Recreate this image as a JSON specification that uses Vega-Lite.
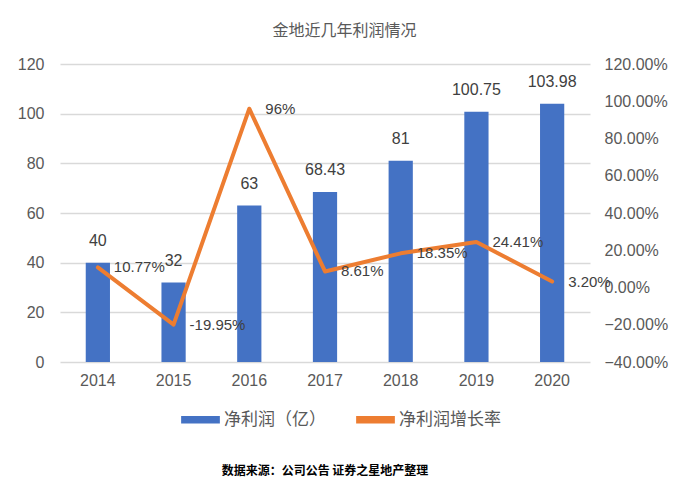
{
  "$schema": "https://vega.github.io/schema/vega-lite/v6.json",
  "width": 530,
  "height": 298,
  "autosize": {"type": "none"},
  "padding": {"left": 60, "top": 64, "right": 92, "bottom": 125},
  "background": "white",
  "title": {
    "text": "数据来源：公司公告  证券之星地产整理",
    "orient": "bottom",
    "anchor": "middle",
    "font": "Noto Sans CJK SC",
    "fontSize": 12,
    "fontWeight": "bold",
    "color": "#000000",
    "offset": 38
  },
  "config": {
    "view": {"stroke": null},
    "font": "Liberation Sans"
  },
  "data": {
    "values": [
      {"year": "2014", "profit": 40, "profitLabel": "40", "growth": 0.1077, "growthLabel": "10.77%"},
      {"year": "2015", "profit": 32, "profitLabel": "32", "growth": -0.1995, "growthLabel": "-19.95%"},
      {"year": "2016", "profit": 63, "profitLabel": "63", "growth": 0.96, "growthLabel": "96%"},
      {"year": "2017", "profit": 68.43, "profitLabel": "68.43", "growth": 0.0861, "growthLabel": "8.61%"},
      {"year": "2018", "profit": 81, "profitLabel": "81", "growth": 0.1835, "growthLabel": "18.35%"},
      {"year": "2019", "profit": 100.75, "profitLabel": "100.75", "growth": 0.2441, "growthLabel": "24.41%"},
      {"year": "2020", "profit": 103.98, "profitLabel": "103.98", "growth": 0.032, "growthLabel": "3.20%"}
    ]
  },
  "encoding": {
    "x": {
      "field": "year",
      "type": "ordinal",
      "scale": {"paddingInner": 0.68, "paddingOuter": 0.34}
    }
  },
  "layer": [
    {
      "encoding": {
        "x": {
          "field": "year",
          "type": "ordinal",
          "axis": {
            "orient": "bottom",
            "title": null,
            "labelAngle": 0,
            "labelFontSize": 16,
            "labelColor": "#595959",
            "labelPadding": 10,
            "ticks": false,
            "domain": false
          }
        },
        "y": {
          "field": "profit",
          "type": "quantitative",
          "scale": {"domain": [0, 120]},
          "axis": {
            "orient": "left",
            "title": null,
            "values": [0, 20, 40, 60, 80, 100, 120],
            "labelFontSize": 16,
            "labelColor": "#595959",
            "labelPadding": 16,
            "ticks": false,
            "domain": false,
            "gridColor": "#D9D9D9",
            "gridWidth": 1.5
          }
        }
      },
      "layer": [
        {
          "mark": {"type": "bar"},
          "encoding": {
            "color": {
              "datum": "净利润（亿）",
              "type": "nominal",
              "scale": {"domain": ["净利润（亿）", "净利润增长率"], "range": ["#4472C4", "#ED7D31"]},
              "legend": {
                "orient": "none",
                "legendX": 121,
                "legendY": 336,
                "direction": "horizontal",
                "title": null,
                "symbolType": "M-1,-0.19H1V0.19H-1Z",
                "symbolSize": 1500,
                "symbolStrokeWidth": 0,
                "labelFont": "Noto Sans CJK SC",
                "labelFontSize": 17,
                "labelColor": "#595959",
                "labelOffset": 4,
                "columnPadding": 30
              }
            }
          }
        },
        {
          "mark": {"type": "text", "baseline": "middle", "dy": -22, "fontSize": 16, "color": "#404040"},
          "encoding": {
            "text": {"field": "profitLabel", "type": "nominal"}
          }
        }
      ]
    },
    {
      "encoding": {
        "x": {
          "field": "year",
          "type": "ordinal",
          "axis": {
            "orient": "top",
            "labels": false,
            "ticks": false,
            "domain": false,
            "grid": false,
            "title": "金地近几年利润情况",
            "titleFont": "Noto Sans CJK SC",
            "titleFontSize": 16,
            "titleFontWeight": "normal",
            "titleColor": "#595959",
            "titlePadding": 26,
            "titleX": 284
          }
        },
        "y": {
          "field": "growth",
          "type": "quantitative",
          "scale": {"domain": [-0.4, 1.2]},
          "axis": {
            "orient": "right",
            "title": null,
            "values": [-0.4, -0.2, 0, 0.2, 0.4, 0.6, 0.8, 1.0, 1.2],
            "format": ".2%",
            "labelFontSize": 16,
            "labelColor": "#595959",
            "labelPadding": 14,
            "ticks": false,
            "domain": false,
            "grid": false
          }
        }
      },
      "layer": [
        {
          "mark": {"type": "line", "strokeWidth": 4, "strokeCap": "round", "strokeJoin": "round"},
          "encoding": {
            "color": {"datum": "净利润增长率", "type": "nominal"}
          }
        },
        {
          "mark": {"type": "text", "align": "left", "baseline": "middle", "dx": 16, "fontSize": 15, "color": "#404040"},
          "encoding": {
            "text": {"field": "growthLabel", "type": "nominal"}
          }
        }
      ]
    }
  ],
  "resolve": {"scale": {"y": "independent"}, "axis": {"x": "independent", "y": "independent"}}
}
